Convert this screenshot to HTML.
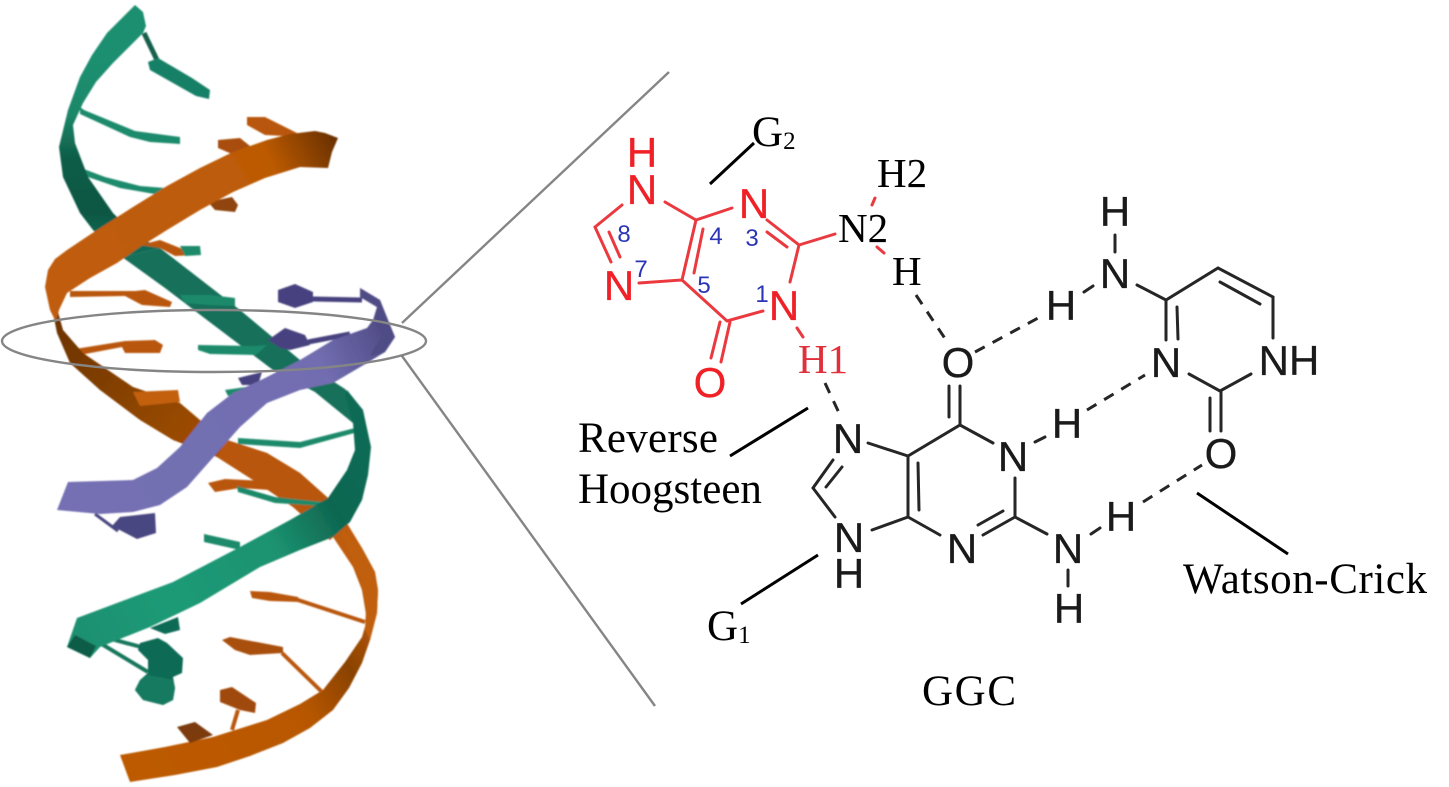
<!DOCTYPE html>
<html><head><meta charset="utf-8"><style>
html,body{margin:0;padding:0;background:#fff;width:1449px;height:787px;overflow:hidden}
svg{display:block}
.s{font-family:"Liberation Sans",sans-serif;font-size:42px;text-anchor:middle;stroke-width:.3}
.t{font-family:"Liberation Serif",serif;font-size:43px;fill:#000}
.b{font-family:"Liberation Sans",sans-serif;font-size:24px;fill:#2b35b5;text-anchor:middle}
</style></head><body>
<svg width="1449" height="787" viewBox="0 0 1449 787" xmlns="http://www.w3.org/2000/svg">
<defs>
<linearGradient id="gu" gradientUnits="userSpaceOnUse" x1="100" y1="60" x2="100" y2="240"><stop offset="0" stop-color="#1d8f70"/><stop offset=".3" stop-color="#1b8769"/><stop offset=".55" stop-color="#0e5c47"/><stop offset=".85" stop-color="#0d5743"/><stop offset="1" stop-color="#116a54"/></linearGradient>
<linearGradient id="gl" gradientUnits="userSpaceOnUse" x1="70" y1="640" x2="372" y2="470"><stop offset="0" stop-color="#1c8f70"/><stop offset=".3" stop-color="#1e9a76"/><stop offset=".65" stop-color="#1b9270"/><stop offset=".85" stop-color="#0f6650"/><stop offset="1" stop-color="#0f6a54"/></linearGradient>
<linearGradient id="ou" gradientUnits="userSpaceOnUse" x1="50" y1="300" x2="338" y2="150"><stop offset="0" stop-color="#c05c08"/><stop offset=".8" stop-color="#bc5a06"/><stop offset="1" stop-color="#6d3205"/></linearGradient>
<linearGradient id="om" gradientUnits="userSpaceOnUse" x1="60" y1="330" x2="220" y2="450"><stop offset="0" stop-color="#6e3404"/><stop offset=".5" stop-color="#8a4306"/><stop offset="1" stop-color="#a54e06"/></linearGradient>
<linearGradient id="ol" gradientUnits="userSpaceOnUse" x1="120" y1="770" x2="378" y2="600"><stop offset="0" stop-color="#bd5a06"/><stop offset=".6" stop-color="#b85706"/><stop offset=".8" stop-color="#8a4205"/><stop offset="1" stop-color="#c05c08"/></linearGradient>
<linearGradient id="pl" gradientUnits="userSpaceOnUse" x1="60" y1="500" x2="392" y2="340"><stop offset="0" stop-color="#7470b3"/><stop offset=".8" stop-color="#716db0"/><stop offset="1" stop-color="#4f4b85"/></linearGradient>
<filter id="bl" x="-5%" y="-5%" width="110%" height="110%"><feGaussianBlur stdDeviation="0.7"/></filter>
</defs>

<g filter="url(#bl)" stroke-linejoin="round">
<!-- top-half green bases -->
<g fill="#1f8a6c">
<path d="M144 33L157 60" stroke="#125f4c" stroke-width="5"/>
<polygon points="148,62 158,58 192,78 210,90 209,99 196,96 150,70" fill="#178066"/>
<polygon points="80,107 84,110 135,131 180,137 180,144 150,142 130,137 80,114"/>
<polygon points="73,165 105,177 140,186 165,188 160,195 120,188 85,176"/>
</g>
<!-- green strand upper (with mid section) -->
<polygon fill="url(#gu)" points="135,5 143,12 146,26 143,33 113,63 96,82 83,103 73,125 75,143 88,177 113,213 135,235 160,248 122,257 93,230 80,213 63,177 59,147 68,110 80,77 92,55 107,33"/>
<polygon fill="#12705a" points="122,257 160,248 200,279 240,310 300,360 345,389 363,410 353,423 315,392 273,370 207,320 165,288"/>
<!-- orange bases upper -->
<g fill="#b9560a">
<polygon points="247,117 265,117 285,127 297,133 285,136 265,135 247,125"/>
<polygon points="218,140 240,138 250,146 232,154 218,148" fill="#a84e08"/>
<polygon points="208,202 232,197 238,205 235,212 215,210" fill="#8f4407"/>
<polygon points="140,245 160,240 185,250 195,255 175,256 160,248"/>
<polygon points="70,291 135,291 145,290 172,302 170,307 142,305 125,296 70,297"/>
<polygon points="75,349 125,341 155,340 163,345 160,353 125,353 122,347 80,355"/>
</g>
<g fill="#1d8a6b">
<polygon points="180,246 200,246 201,255 185,256"/>
<polygon points="180,295 210,295 235,298 235,306 210,305 185,303"/>
<polygon points="198,345 255,346 267,345 256,355 210,354 198,350"/>
<polygon points="225,390 260,385 255,392 228,396"/>
</g>
<!-- orange middle strand -->
<polygon fill="url(#om)" points="53,313 57,333 70,363 100,390 140,420 173,440 217,457 253,480 293,507 330,540 345,525 328,498 300,473 267,453 227,440 200,420 180,403 133,387 83,353 63,330 58,312"/>
<polygon fill="#b9570a" points="227,440 267,453 300,473 328,498 345,525 330,540 293,507 253,480 217,457"/>
<!-- orange upper ribbon -->
<polygon fill="url(#ou)" points="338,138 325,133 315,131 290,134 267,140 233,152 200,168 167,186 133,207 100,228 67,250 55,259 48,270 45,287 50,310 56,322 59,310 67,293 90,278 117,263 140,247 167,230 200,210 233,192 265,178 300,167 328,168 332,152"/>
<polygon fill="#c2600e" points="133,392 178,390 180,402 140,406"/>

<!-- lower orange strand -->
<polygon fill="url(#ol)" points="333,537 345,520 362,548 375,572 378,590 377,613 370,640 362,663 349,688 333,710 310,728 283,743 250,756 217,767 175,775 130,782 120,755 165,747 213,737 267,720 300,704 323,690 345,662 362,637 367,620 362,590 353,567"/>
<polygon fill="#c05e0c" points="340,528 362,548 375,572 378,590 377,613 370,640 365,630 366,610 360,580 350,555"/>
<polygon fill="#b9570a" points="250,591 270,592 298,597 300,602 270,601 252,598"/>
<path d="M298 600L365 622" stroke="#b9570a" stroke-width="4"/>
<polygon fill="#a94f08" points="222,640 230,637 283,647 283,653 250,655 235,650"/>
<path d="M282 653L322 692" stroke="#b9570a" stroke-width="4"/>
<polygon fill="#a04a07" points="220,690 232,687 256,703 255,713 240,710 220,702"/>
<path d="M238 710L232 730" stroke="#b9570a" stroke-width="4"/>
<polygon fill="#7c3b07" points="177,727 195,722 213,735 190,743"/>

<!-- orange & green bases middle lower -->
<polygon fill="#b9570a" points="208,483 225,479 285,482 270,490 240,488 215,492"/>
<polygon fill="#1d8a6b" points="237,486 275,497 322,502 322,506 275,503 238,492"/>
<polygon fill="#1d8a6b" points="204,534 240,542 240,550 204,542"/>
<polygon fill="#1d8a6b" points="238,438 300,442 355,428 358,432 300,448 238,444"/>

<!-- green hexes bottom -->
<path d="M95 640L148 672M100 636L145 648" stroke="#16775c" stroke-width="4"/>
<polygon fill="#116a54" points="140,643 158,638 167,643 183,658 182,673 173,677 175,688 173,700 163,705 143,700 135,690 140,680 148,673 148,660 138,650"/>
<polygon fill="#147a61" points="135,690 140,680 148,675 173,680 175,688 173,700 163,705 143,700"/>
<polygon fill="#116a54" points="150,628 178,617 180,630 165,634"/>
<!-- green lower ribbon -->
<polygon fill="url(#gl)" points="77,618 125,600 173,582 240,547 290,520 328,498 347,470 355,450 353,423 345,395 347,390 363,410 371,447 368,475 362,500 350,522 333,537 300,550 260,567 200,603 150,627 100,647 90,658 67,647"/>
<polygon fill="#0e5c47" points="67,647 90,658 96,646 75,635"/>

<!-- purple bases -->
<polygon fill="#46437f" points="278,290 295,284 313,292 313,302 295,308 278,302"/>
<path d="M313 299L362 300" stroke="#46437f" stroke-width="5"/>
<polygon fill="#46437f" points="268,340 285,328 305,335 310,345 290,350 280,348"/>
<path d="M308 342L350 334" stroke="#46437f" stroke-width="5"/>
<polygon fill="#4a4681" points="120,517 155,513 156,533 137,539 112,526"/>
<path d="M95 514L118 531" stroke="#4a4681" stroke-width="3"/>
<polygon fill="#46437f" points="238,378 262,372 258,385 242,385"/>
<!-- purple ribbon -->
<polygon fill="url(#pl)" points="360,288 380,300 390,325 395,337 385,352 367,363 333,383 300,390 267,403 240,427 217,453 187,487 160,505 133,512 100,514 57,510 68,482 133,480 157,468 180,447 207,413 233,393 265,378 300,360 333,340 367,328 373,320 377,307 360,297"/>
<polygon fill="#4f4b85" points="360,288 380,300 390,325 395,337 385,352 370,356 382,335 375,322 377,307 360,297"/>
</g>

<!-- gray -->
<g fill="none" stroke="#858585" stroke-width="2.4">
<ellipse cx="214" cy="341" rx="212" ry="31"/>
<path d="M402 323L669 72M402 356L655 706"/>
</g>

<!-- red guanine -->
<g stroke="#ea3a40" stroke-width="3" fill="none" stroke-linecap="round">
<path d="M665 202L696 220L732 208M696 220L682 280L639 283M703 229L694 273M682 280L727 321L763 311M720 322L711 358M730 322L721 362M790 282L799 245L767 220M787 247L767 232M622 205L595 227L611 262M609 232L620 257M799 245L835 234M875 198L872 205M877 247L884 253M797 328L803 337"/>
</g>
<g>
<text class="s" x="642" y="167" fill="#f02027" stroke="#f02027">H</text>
<text class="s" x="642" y="204" fill="#f02027" stroke="#f02027">N</text>
<text class="s" x="754" y="218" fill="#f02027" stroke="#f02027">N</text>
<text class="s" x="619" y="300" fill="#f02027" stroke="#f02027">N</text>
<text class="s" x="784" y="320" fill="#f02027" stroke="#f02027">N</text>
<text class="s" x="710" y="397" fill="#f02027" stroke="#f02027">O</text>
</g>
<text class="b" x="624" y="242">8</text>
<text class="b" x="716" y="244">4</text>
<text class="b" x="752" y="246">3</text>
<text class="b" x="641" y="277">7</text>
<text class="b" x="704" y="293">5</text>
<text class="b" x="762" y="302">1</text>

<!-- black bonds -->
<g stroke="#262626" stroke-width="3" fill="none" stroke-linecap="round">
<path d="M868 443L908 456L960 425L993 443M908 456L908 517M918 463L919 510M908 517L872 530M908 517L940 535M983 535L1015 517M978 525L1003 511M1015 478L1015 517L1047 534M835 517L813 488L833 460M826 487L842 467M1035 442L1045 437M1091 534L1100 528M1068 570L1068 586"/>
<path d="M1115 235L1115 252M1137 285L1166 300L1218 268L1273 297L1273 338M1220 282L1260 304M1166 300L1166 340M1177 307L1178 339M1189 374L1220 391L1251 374M1221 391L1221 431M1210 398L1210 431M1084 292L1093 286M949 386L949 417M960 386L960 425"/>
</g>
<g stroke="#262626" stroke-width="3" fill="none" stroke-dasharray="11 9">
<path d="M916 295L948 343M825 383L840 415M975 352L1040 317M1087 410L1145 375M1143 502L1202 465"/>
</g>
<g fill="#1a1a1a" stroke="#1a1a1a">
<text class="s" x="848" y="453">N</text>
<text class="s" x="1013" y="471">N</text>
<text class="s" x="1067" y="438">H</text>
<text class="s" x="1121" y="531">H</text>
<text class="s" x="1068" y="563">N</text>
<text class="s" x="1069" y="623">H</text>
<text class="s" x="962" y="563">N</text>
<text class="s" x="849" y="552">N</text>
<text class="s" x="849" y="588">H</text>
<text class="s" x="1221" y="468">O</text>
<text class="s" x="958" y="377">O</text>
<text class="s" x="1115" y="226">H</text>
<text class="s" x="1115" y="288">N</text>
<text class="s" x="1061" y="320">H</text>
<text class="s" x="1166" y="377">N</text>
<text class="s" x="1289" y="375">NH</text>
</g>

<!-- serif labels & lines -->
<g stroke="#000" stroke-width="3" fill="none">
<path d="M754 143L710 184M808 408L730 456M818 555L741 604M1197 493L1288 554"/>
</g>
<text class="t" x="752" y="146">G<tspan font-size="25" dy="3">2</tspan></text>
<text class="t" x="877" y="187" style="font-size:41px">H2</text>
<text class="t" x="838" y="242" style="font-size:41px">N2</text>
<text class="t" x="892" y="285" style="font-size:41px">H</text>
<text class="t" x="798" y="373" style="font-size:41px;fill:#e0303c">H1</text>
<text class="t" x="578" y="452" textLength="140">Reverse</text>
<text class="t" x="578" y="503">Hoogsteen</text>
<text class="t" x="707" y="640">G<tspan font-size="25" dy="3">1</tspan></text>
<text class="t" x="1183" y="593" textLength="244">Watson-Crick</text>
<text class="t" x="922" y="705" textLength="94">GGC</text>
</svg>
</body></html>
